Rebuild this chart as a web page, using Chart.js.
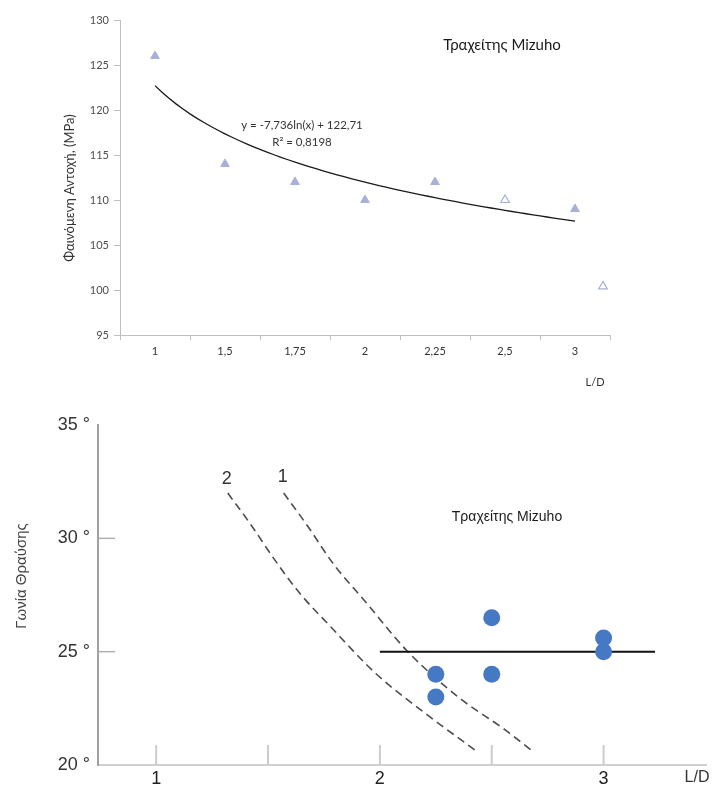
<!DOCTYPE html>
<html lang="el">
<head>
<meta charset="UTF-8">
<title>Τραχείτης Mizuho</title>
<script src="https://cdn.jsdelivr.net/npm/chart.js"></script>
<style>
  body { margin: 0; background: #fff; }
  canvas { position: absolute; left: 0; }
  #strengthChart { top: 0; }
  #angleChart { top: 395px; }
</style>
</head>
<body>
<canvas id="strengthChart" width="715" height="395"></canvas>
<canvas id="angleChart" width="715" height="393"></canvas>

<script>
// Upper chart: apparent strength against L/D (x = category position)
const ldCats = ['1', '1,5', '1,75', '2', '2,25', '2,5', '3'];
const solidPos = [0, 1, 2, 3, 4, 6];
const solidMPa = [126, 114, 112, 110, 112, 109];
const openPos = [5, 6.4];
const openMPa = [110, 100.4];
const mpaTicks = [95, 100, 105, 110, 115, 120, 125, 130];
// log trendline y = a*ln(n) + b, n = category number 1..7
const trendA = -7.736;
const trendB = 122.71;

// Lower chart: failure angle against L/D
const ldTicks = [1, 1.5, 2, 2.5, 3];
const angleTicks = [20, 25, 30, 35];
const mizuhoLD = [2.25, 2.25, 2.5, 2.5, 3, 3];
const mizuhoAngle = [24, 23, 26.5, 24, 25.6, 25];
const levelLD = [2, 3.23];
const levelAngle = [25, 25];
const curve1LD = [1.57, 1.68, 1.79, 1.94, 2.12, 2.35, 2.56, 2.69];
const curve1Angle = [32.0, 30.5, 28.9, 27.15, 25.05, 23.0, 21.55, 20.55];
const curve2LD = [1.32, 1.42, 1.53, 1.64, 1.78, 1.98, 2.2, 2.44];
const curve2Angle = [32.0, 30.65, 29.05, 27.6, 26.1, 24.05, 22.3, 20.55];

const zip = (xs, ys) => xs.map((x, i) => ({ x: x, y: ys[i] }));

// free text drawn on top of a chart; "at" anchors a label to data values
function makeNotes(items) {
    return {
        id: 'notes',
        afterDraw(chart) {
            const ctx = chart.ctx;
            items.forEach(t => {
                let x = t.x, y = t.y;
                if (t.at) {
                    x = chart.scales.x.getPixelForValue(t.at[0]) + (t.dx || 0);
                    y = chart.scales.y.getPixelForValue(t.at[1]) + (t.dy || 0);
                }
                ctx.save();
                ctx.font = t.font;
                ctx.fillStyle = t.color || '#222';
                ctx.textAlign = 'center';
                ctx.textBaseline = 'middle';
                ctx.translate(x, y);
                if (t.rotate) ctx.rotate(t.rotate);
                ctx.fillText(t.text, 0, 0);
                ctx.restore();
            });
        }
    };
}

// short tick marks pointing into the plot area (lower chart)
const innerTicks = {
    id: 'innerTicks',
    beforeDatasetsDraw(chart) {
        const { ctx, chartArea, scales } = chart;
        ctx.save();
        ctx.strokeStyle = '#cccccc';
        ctx.lineWidth = 2;
        ldTicks.forEach(v => {
            const px = scales.x.getPixelForValue(v);
            ctx.beginPath();
            ctx.moveTo(px, chartArea.bottom);
            ctx.lineTo(px, chartArea.bottom - 20);
            ctx.stroke();
        });
        ctx.strokeStyle = '#b0b0b0';
        ctx.lineWidth = 1.5;
        [25, 30].forEach(v => {
            const py = scales.y.getPixelForValue(v);
            ctx.beginPath();
            ctx.moveTo(chartArea.left, py);
            ctx.lineTo(chartArea.left + 17, py);
            ctx.stroke();
        });
        ctx.restore();
    }
};

// ---- upper chart ----
const trendPts = [];
for (let n = 1; n <= 7.0001; n += 0.1) {
    trendPts.push({ x: n - 1, y: trendA * Math.log(n) + trendB });
}

const lato = 'Lato, "Open Sans", sans-serif';

new Chart(document.getElementById('strengthChart'), {
    type: 'scatter',
    data: {
        datasets: [
            {
                data: zip(solidPos, solidMPa),
                pointStyle: 'triangle',
                pointRadius: 5,
                backgroundColor: '#a9b0d8',
                borderColor: '#a9b0d8'
            },
            {
                data: zip(openPos, openMPa),
                pointStyle: 'triangle',
                pointRadius: 5,
                backgroundColor: '#ffffff',
                borderColor: '#a9b0d8',
                borderWidth: 1.2
            },
            {
                data: trendPts,
                showLine: true,
                pointRadius: 0,
                borderColor: '#1a1a1a',
                borderWidth: 1.3
            }
        ]
    },
    options: {
        responsive: false,
        animation: false,
        layout: { padding: { top: 20, right: 105, left: 0, bottom: 0 } },
        plugins: {
            legend: { display: false },
            tooltip: { enabled: false }
        },
        scales: {
            x: {
                type: 'linear',
                min: -0.5,
                max: 6.5,
                afterBuildTicks: s => { s.ticks = ldCats.concat('').map((c, i) => ({ value: i - 0.5 })); },
                afterFit: s => { s.height = 60; },
                ticks: {
                    callback: (v, i) => ldCats[i] || '',
                    labelOffset: 35,
                    autoSkip: false,
                    maxRotation: 0,
                    padding: 5,
                    color: '#333',
                    font: { family: lato, size: 11 }
                },
                grid: { drawOnChartArea: false, tickLength: 5, color: '#bfbfbf' },
                border: { color: '#bfbfbf' }
            },
            y: {
                min: 95,
                max: 130,
                afterBuildTicks: s => { s.ticks = mpaTicks.map(v => ({ value: v })); },
                afterFit: s => { s.width = 120; },
                ticks: { padding: 5, color: '#4d4d4d', font: { family: lato, size: 11 } },
                grid: { drawOnChartArea: false, tickLength: 6, color: '#bfbfbf' },
                border: { color: '#bfbfbf' }
            }
        }
    },
    plugins: [makeNotes([
        { text: 'Τραχείτης Mizuho', x: 502, y: 45, font: '15px ' + lato, color: '#1a1a1a' },
        { text: 'y = -7,736ln(x) + 122,71', x: 302, y: 125, font: '11.5px ' + lato, color: '#333' },
        { text: 'R² = 0,8198', x: 302, y: 142, font: '11.5px ' + lato, color: '#333' },
        { text: 'L/D', x: 595, y: 382, font: '11px ' + lato, color: '#333' },
        { text: 'Φαινόμενη Αντοχή, (MPa)', x: 70, y: 188, rotate: -Math.PI / 2, font: '13px ' + lato, color: '#333' }
    ])]
});

// ---- lower chart ----
const arial = '"Liberation Sans", Arial, sans-serif';

const dashed = (xs, ys) => ({
    data: zip(xs, ys),
    showLine: true,
    pointRadius: 0,
    borderColor: '#4d4d4d',
    borderWidth: 1.6,
    borderDash: [8, 5],
    cubicInterpolationMode: 'monotone'
});

new Chart(document.getElementById('angleChart'), {
    type: 'scatter',
    data: {
        datasets: [
            {
                data: zip(mizuhoLD, mizuhoAngle),
                pointRadius: 8.5,
                backgroundColor: '#4679c4',
                borderWidth: 0
            },
            {
                data: zip(levelLD, levelAngle),
                showLine: true,
                pointRadius: 0,
                borderColor: '#111111',
                borderWidth: 2
            },
            dashed(curve1LD, curve1Angle),
            dashed(curve2LD, curve2Angle)
        ]
    },
    options: {
        responsive: false,
        animation: false,
        layout: { padding: { top: 30, right: 0, left: 0, bottom: 0 } },
        plugins: {
            legend: { display: false },
            tooltip: { enabled: false }
        },
        scales: {
            x: {
                type: 'linear',
                min: 0.74,
                max: 3.46,
                afterBuildTicks: s => { s.ticks = ldTicks.map(v => ({ value: v })); },
                afterFit: s => { s.height = 23; },
                ticks: {
                    callback: v => Number.isInteger(v) ? String(v) : '',
                    autoSkip: false,
                    maxRotation: 0,
                    padding: 3,
                    color: '#222',
                    font: { family: arial, size: 18 }
                },
                grid: { drawOnChartArea: false, drawTicks: false },
                border: { color: '#d0d0d0', width: 2 }
            },
            y: {
                min: 20,
                max: 35,
                afterBuildTicks: s => { s.ticks = angleTicks.map(v => ({ value: v })); },
                afterFit: s => { s.width = 98; },
                ticks: {
                    callback: v => v + ' °',
                    padding: 8,
                    color: '#333',
                    font: { family: arial, size: 18 }
                },
                grid: { drawOnChartArea: false, drawTicks: false },
                border: { color: '#a0a0a0', width: 2 }
            }
        }
    },
    plugins: [makeNotes([
        { text: 'Τραχείτης Mizuho', x: 507, y: 122, font: '14px ' + arial, color: '#1a1a1a' },
        { text: 'Γωνία Θραύσης', x: 22, y: 181, rotate: -Math.PI / 2, font: '15px ' + arial, color: '#444' },
        { text: 'L/D', x: 697, y: 383, font: '16px ' + arial, color: '#333' },
        { text: '1', at: [curve1LD[0], curve1Angle[0]], dx: -1, dy: -16, font: '18px ' + arial, color: '#333' },
        { text: '2', at: [curve2LD[0], curve2Angle[0]], dx: -1, dy: -14, font: '18px ' + arial, color: '#333' }
    ]), innerTicks]
});
</script>
</body>
</html>
